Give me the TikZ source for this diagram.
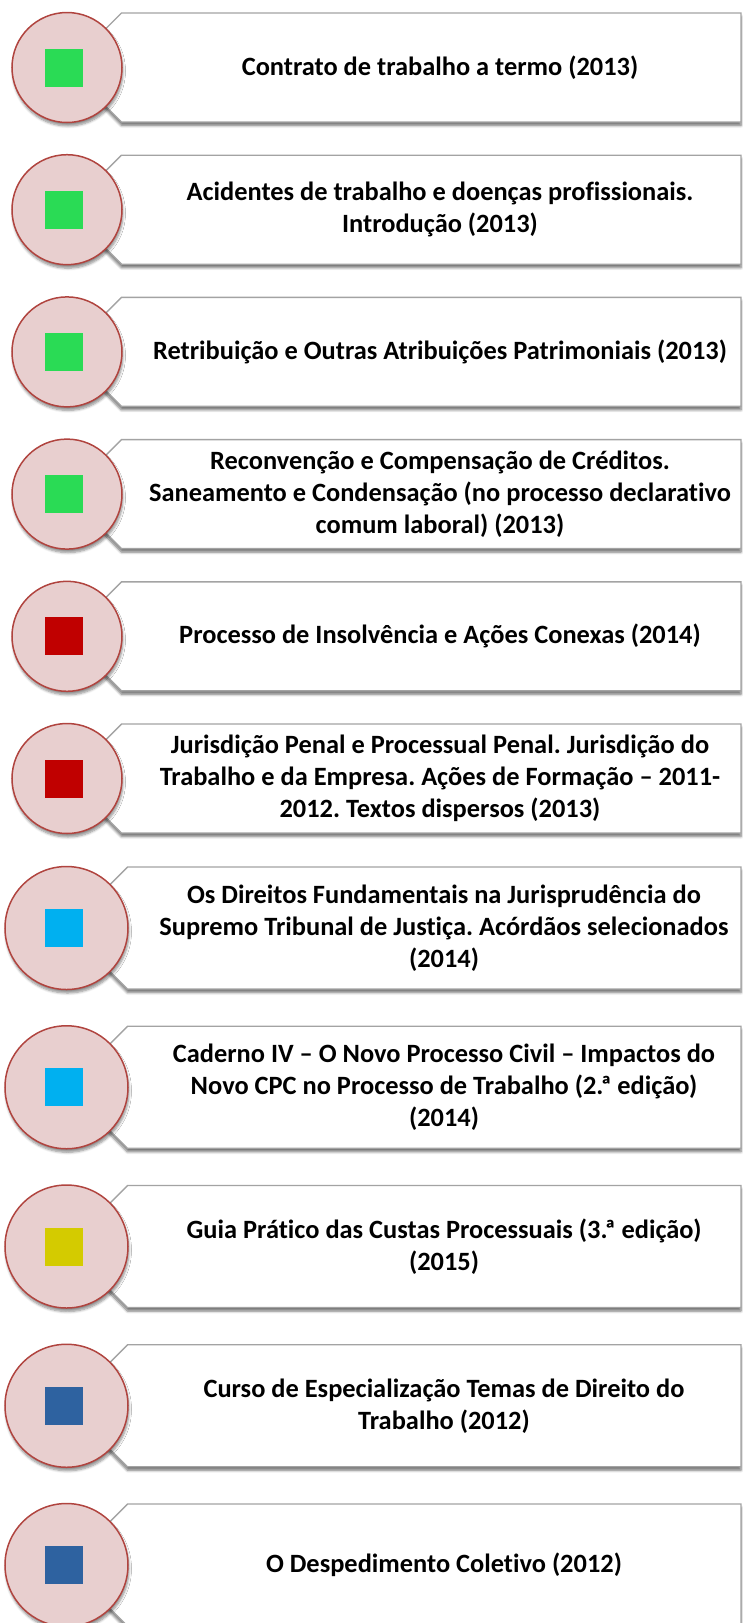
\documentclass[tikz,border=0pt]{standalone}
\usepackage{fontspec}
\setmainfont{Carlito}[Ligatures={NoCommon}]
\usetikzlibrary{shadows.blur}
\frenchspacing
\definecolor{boxline}{HTML}{A3A3A3}
\definecolor{circfill}{HTML}{E8CFCF}
\definecolor{circline}{HTML}{B0443F}
\definecolor{sqgreen}{HTML}{2ADB55}
\definecolor{sqred}{HTML}{C00000}
\definecolor{sqcyan}{HTML}{00B0F0}
\definecolor{sqyellow}{HTML}{D4CB00}
\definecolor{sqblue}{HTML}{2E62A0}
\tikzset{
  boxshape/.style={draw=boxline, line width=1.4pt, fill=white, line join=miter,
    blur shadow={shadow xshift=0pt, shadow yshift=-3.5pt, shadow blur radius=2.5pt, shadow blur steps=6, shadow opacity=55}},
  circ/.style={circle, draw=circline, line width=1.5pt, fill=circfill, inner sep=0pt,
    blur shadow={shadow xshift=1pt, shadow yshift=-3.5pt, shadow blur radius=2.5pt, shadow blur steps=6, shadow opacity=45}},
  sqbox/.style={rectangle, minimum size=38pt, inner sep=0pt, draw=none},
  txt/.style={align=center, font=\fontsize{26.4}{32}\selectfont\bfseries, text=black, inner sep=0pt}
}
\newcommand\ordA{\kern-3pt ª}
\newcommand\itemrow[7]{%
  % #1 name, #2 top, #3 height, #4 circle center x, #5 colour, #6 text x, #7 text
  \pgfmathsetmacro\cy{#2+#3/2}%
  \pgfmathsetmacro\cx{#4+#3/2}%
  \pgfmathsetmacro\bot{#2+#3}%
  \pgfmathsetmacro\rad{#3+1}%
  \path[boxshape] (#4,\cy) -- (\cx,#2) -- (741,#2) -- (741,\bot) -- (\cx,\bot) -- cycle;
  \node[circ, minimum size=\rad pt] (#1c) at (#4,\cy) {};
  \node[sqbox, fill=#5] (#1s) at (64,\cy) {};
  \node[txt] (#1t) at (#6,\cy) {#7};
}
\begin{document}
\begin{tikzpicture}[x=1pt,y=-1pt]
\useasboundingbox (0,0) rectangle (743,1623);
\clip (0,0) rectangle (743,1623);
\itemrow{r1}{13}{109}{67}{sqgreen}{440}{Contrato de trabalho a termo (2013)}
\itemrow{r2}{155.2}{109}{67}{sqgreen}{440}{Acidentes de trabalho e doenças profissionais.\\ Introdução (2013)}
\itemrow{r3}{297.4}{109}{67}{sqgreen}{440}{Retribuição e Outras Atribuições Patrimoniais (2013)}
\itemrow{r4}{439.6}{109}{67}{sqgreen}{440}{Reconvenção e Compensação de Créditos.\\ Saneamento e Condensação (no processo declarativo\\ comum laboral) (2013)}
\itemrow{r5}{581.8}{109}{67}{sqred}{440}{Processo de Insolvência e Ações Conexas (2014)}
\itemrow{r6}{724}{109}{67}{sqred}{440}{Jurisdição Penal e Processual Penal. Jurisdição do\\ Trabalho e da Empresa. Ações de Formação – 2011-\\ 2012. Textos dispersos (2013)}
\itemrow{r7}{867}{122}{66.5}{sqcyan}{444}{Os Direitos Fundamentais na Jurisprudência do\\ Supremo Tribunal de Justiça. Acórdãos selecionados\\ (2014)}
\itemrow{r8}{1026.25}{122}{66.5}{sqcyan}{444}{Caderno IV – O Novo Processo Civil – Impactos do\\ Novo CPC no Processo de Trabalho (2.\ordA{} edição)\\ (2014)}
\itemrow{r9}{1185.5}{122}{66.5}{sqyellow}{444}{Guia Prático das Custas Processuais (3.\ordA{} edição)\\ (2015)}
\itemrow{r10}{1344.75}{122}{66.5}{sqblue}{444}{Curso de Especialização Temas de Direito do\\ Trabalho (2012)}
\itemrow{r11}{1504}{122}{66.5}{sqblue}{444}{O Despedimento Coletivo (2012)}
\end{tikzpicture}
\end{document}
